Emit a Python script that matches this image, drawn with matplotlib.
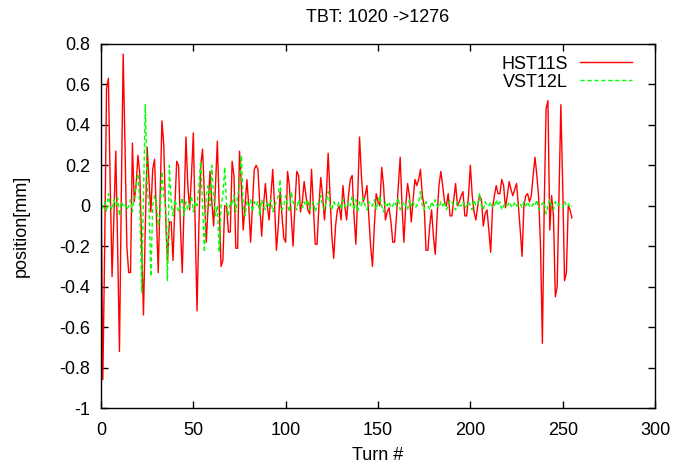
import matplotlib
matplotlib.use("Agg")
import matplotlib.pyplot as plt

plt.rcParams['font.family'] = ['Liberation Sans', 'DejaVu Sans']

# positions, tour 0 -> 255
hst11s = [
    0.12, -0.86, -0.2, 0.58, 0.63, 0.1, -0.35, -0.05, 0.27, -0.2, -0.72, 0.05, 0.75, 0.3, -0.2, -0.33,
    -0.33, 0.31, 0.02, 0.1, 0.25, 0.16, -0.2, -0.54, -0.1, 0.29, 0.12, -0.03, 0.18, 0.23, -0.05, -0.33,
    0.05, 0.42, 0.3, -0.05, -0.28, -0.08, -0.08, -0.27, 0.0, 0.22, 0.2, -0.1, -0.33, 0.0, 0.34, 0.1,
    -0.02, 0.15, 0.36, -0.1, -0.52, -0.1, 0.2, 0.28, 0.05, -0.18, 0.0, 0.17, 0.02, -0.1, 0.1, 0.32,
    0.0, -0.3, -0.27, 0.0, 0.0, -0.13, -0.13, 0.22, 0.15, -0.21, -0.21, 0.27, 0.1, -0.12, 0.0, 0.13,
    0.0, -0.18, 0.0, 0.18, 0.2, 0.18, 0.0, -0.15, 0.0, 0.11, 0.0, -0.07, 0.05, 0.18, 0.0, -0.22,
    -0.1, 0.07, -0.05, -0.16, -0.18, 0.17, 0.1, -0.05, -0.2, 0.0, 0.17, 0.15, -0.03, 0.02, 0.12, 0.05,
    -0.02, -0.04, 0.18, 0.0, -0.19, -0.19, 0.0, 0.14, 0.05, -0.07, 0.05, 0.26, 0.05, -0.15, -0.26, -0.1,
    -0.02, 0.0, -0.07, 0.1, 0.0, -0.07, 0.05, 0.13, 0.15, -0.05, -0.19, 0.05, 0.34, 0.15, 0.02, 0.05,
    0.1, -0.05, -0.2, -0.3, -0.1, 0.06, 0.02, 0.0, 0.19, 0.1, -0.07, -0.03, -0.01, -0.08, -0.18, -0.18,
    -0.05, 0.1, 0.24, 0.0, -0.18, 0.0, 0.11, 0.05, -0.08, 0.03, 0.13, 0.1, 0.13, 0.18, 0.05, 0.0,
    -0.22, -0.22, -0.1, -0.02, -0.15, -0.24, -0.05, 0.1, 0.17, 0.1, 0.02, 0.0, 0.06, -0.05, -0.05, 0.03,
    0.11, 0.0, 0.02, 0.05, 0.07, -0.05, -0.05, 0.05, 0.2, 0.05, -0.03, -0.07, 0.0, 0.05, 0.03, -0.1,
    -0.04, -0.02, -0.12, -0.23, -0.01, 0.05, 0.1, 0.06, 0.06, 0.13, 0.1, -0.01, 0.05, 0.12, 0.08, 0.05,
    0.08, 0.11, 0.0, -0.12, -0.25, 0.0, 0.05, 0.06, 0.02, 0.05, 0.15, 0.24, 0.15, 0.04, -0.2, -0.68,
    0.0, 0.48, 0.52, -0.12, 0.05, -0.05, -0.45, -0.4, 0.05, 0.5, 0.1, -0.37, -0.33, 0.0, -0.02, -0.06,
]

vst12l = [
    -0.05, 0.0, 0.02, -0.03, 0.06, 0.0, -0.02, 0.03, 0.0, 0.04, -0.05, 0.02, 0.0, 0.01, -0.02, 0.0,
    0.03, -0.03, 0.05, 0.1, 0.16, 0.0, -0.43, 0.05, 0.5, 0.1, 0.0, -0.35, 0.0, 0.05, 0.02, -0.1,
    -0.05, 0.17, 0.05, 0.0, -0.37, 0.2, 0.02, -0.05, 0.03, 0.0, -0.03, 0.0, 0.04, -0.05, 0.02, -0.02,
    0.0, 0.05, -0.03, 0.02, 0.0, 0.1, 0.22, 0.0, -0.23, 0.05, 0.1, 0.0, 0.2, 0.05, -0.05, 0.0,
    -0.23, 0.0, 0.05, 0.19, 0.0, -0.05, 0.02, 0.0, 0.05, -0.03, 0.05, 0.1, 0.25, 0.0, -0.05, 0.02,
    0.0, 0.03, -0.03, 0.02, 0.0, 0.02, -0.05, 0.03, 0.0, -0.02, 0.02, 0.0, 0.03, -0.03, 0.0, 0.02,
    0.05, 0.13, -0.02, 0.0, 0.05, 0.0, -0.03, 0.07, 0.02, 0.0, -0.02, 0.03, 0.0, -0.01, 0.02, 0.0,
    0.03, -0.02, 0.0, 0.02, -0.03, 0.0, 0.02, 0.05, 0.0, -0.02, 0.02, 0.07, 0.0, -0.02, 0.02, 0.0,
    0.0, 0.02, -0.02, 0.03, 0.0, -0.01, 0.02, 0.0, 0.05, -0.02, 0.03, -0.03, 0.02, 0.0, 0.04, 0.0,
    -0.02, 0.02, 0.0, 0.0, 0.03, -0.02, 0.02, 0.05, 0.0, -0.03, 0.02, 0.0, 0.02, -0.01, 0.0, 0.02,
    0.0, 0.04, -0.02, 0.0, 0.02, 0.0, -0.02, 0.03, 0.0, 0.02, -0.01, 0.0, 0.02, 0.07, 0.0, -0.02,
    0.02, 0.0, -0.02, 0.02, 0.0, 0.03, 0.0, -0.01, 0.02, 0.0, 0.02, -0.02, 0.0, 0.03, 0.02, 0.0,
    -0.02, 0.02, 0.0, 0.0, 0.02, -0.01, 0.0, 0.02, 0.0, -0.02, 0.03, 0.0, 0.01, 0.06, 0.0, -0.02,
    0.02, 0.0, 0.0, 0.02, -0.01, 0.0, 0.03, 0.0, 0.02, -0.02, 0.0, 0.01, 0.0, 0.02, 0.0, -0.01,
    0.02, 0.0, 0.0, 0.01, -0.01, 0.02, 0.0, 0.02, 0.0, -0.01, 0.01, 0.0, 0.03, -0.02, 0.0, 0.01,
    0.02, -0.04, 0.0, 0.03, 0.0, -0.02, 0.02, 0.0, 0.01, 0.0, -0.01, 0.02, 0.0, 0.01, -0.01, 0.0,
]

turns = list(range(len(hst11s)))

xticks = [0, 50, 100, 150, 200, 250, 300]
yticks = [-1, -0.8, -0.6, -0.4, -0.2, 0, 0.2, 0.4, 0.6, 0.8]
ylabels = ["-1", "-0.8", "-0.6", "-0.4", "-0.2", "0", "0.2", "0.4", "0.6", "0.8"]

fig = plt.figure(figsize=(6.76, 4.69), dpi=100)
ax = fig.add_axes([0.1494, 0.130, 0.8196, 0.7762])

ax.plot(turns, hst11s, color="#ff0000", lw=1.0, label="HST11S")
ax.plot(turns, vst12l, color="#00ff00", lw=1.0, dashes=(3, 2), label="VST12L")

ax.set_xlim(0, 300)
ax.set_ylim(-1, 0.8)
ax.set_xticks(xticks)
ax.set_yticks(yticks)
ax.set_yticklabels(ylabels)
ax.tick_params(direction="in", length=5, width=1, top=True, right=True, labelsize=13)
ax.tick_params(axis="x", pad=10)
ax.tick_params(axis="y", pad=8)
for s in ax.spines.values():
    s.set_linewidth(1.0)

ax.set_xlabel("Turn #", fontsize=13, labelpad=6)
ax.set_ylabel("position[mm]", fontsize=13, labelpad=21)
ax.set_title("TBT: 1020 ->1276", fontsize=13, pad=16)

leg = ax.legend(loc="upper right", bbox_to_anchor=(0.9585, 0.968), frameon=False,
                markerfirst=False, fontsize=13, handlelength=2.9, borderpad=0,
                borderaxespad=0, labelspacing=0.05, handletextpad=0.65)
for t in leg.get_texts():
    t.set_ha("right")

fig.savefig("out.png", dpi=100)
